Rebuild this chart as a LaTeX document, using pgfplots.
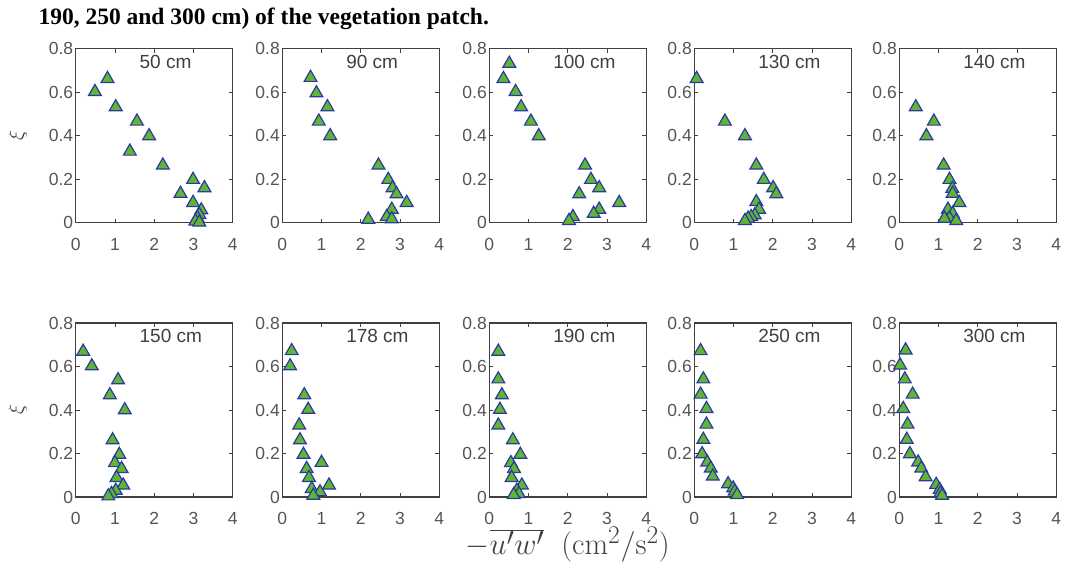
\documentclass[border=0pt]{standalone}
\usepackage[no-math]{fontspec}
\setmainfont{Liberation Sans}
\newfontfamily\titlefont{Liberation Serif}
\usepackage{graphicx}
\usepackage{pgfplots}
\pgfplotsset{compat=1.18}

\definecolor{mkgreen}{RGB}{96,182,50}
\definecolor{mkedge}{RGB}{42,58,160}
\definecolor{axgray}{RGB}{64,64,64}
\definecolor{lblgray}{RGB}{85,85,85}

\pgfplotsset{
  panel/.style={
    scale only axis, width=157pt, height=174pt,
    anchor=south west,
    xmin=0, xmax=4, ymin=0, ymax=0.8,
    xtick={0,1,2,3,4}, ytick={0,0.2,0.4,0.6,0.8},
    tick align=inside, major tick length=4pt,
    axis line style={axgray, line width=1.1pt},
    every tick/.style={axgray, line width=0.8pt},
    tick label style={font=\fontsize{17.5}{19}\selectfont, text=lblgray},
    /pgf/number format/assume math mode=true,
    xticklabel style={yshift=-12pt},
    yticklabel style={xshift=1pt},
    clip=false,
  },
  firstcol/.style={
    ylabel={$\xi$},
    ylabel style={at={(axis description cs:-0.37,0.5)}, anchor=center,
      font=\fontsize{20}{22}\selectfont, text=axgray},
  },
  pts/.style={only marks, mark=triangle*, mark size=7.4pt,
    mark options={draw=mkedge, fill=mkgreen, line width=1.2pt, yshift=-1.8pt}},
}
\newcommand{\ptitle}[1]{\node[anchor=west, font=\fontsize{19}{21}\selectfont,
  text=axgray] at (rel axis cs:0.385,0.924) {#1};}

\begin{document}
\begin{tikzpicture}
\useasboundingbox (0,0) rectangle (1066pt,-569pt);

\node[anchor=base west, font=\titlefont\bfseries\fontsize{23.5}{26}\selectfont]
  at (35pt,-25pt) {190, 250 and 300 cm) of the vegetation patch.};

% top row
\begin{axis}[panel, firstcol, at={(75.7pt,-222.7pt)}]
\addplot[pts] coordinates {(0.81,0.67) (0.49,0.61) (1.02,0.54) (1.56,0.474) (1.87,0.407) (1.38,0.336) (2.22,0.272) (2.99,0.206) (3.28,0.168) (2.67,0.142) (2.99,0.10) (3.2,0.066) (3.15,0.045) (3.1,0.03) (3.05,0.015) (3.15,0.01)};
\ptitle{50 cm}
\end{axis}

\begin{axis}[panel, at={(282.3pt,-222.7pt)}]
\addplot[pts] coordinates {(0.72,0.675) (0.87,0.604) (1.15,0.54) (0.93,0.474) (1.22,0.407) (2.45,0.272) (2.70,0.206) (2.81,0.168) (2.91,0.14) (3.17,0.10) (2.79,0.069) (2.66,0.035) (2.79,0.025) (2.19,0.023)};
\ptitle{90 cm}
\end{axis}

\begin{axis}[panel, at={(489.3pt,-222.7pt)}]
\addplot[pts] coordinates {(0.51,0.74) (0.36,0.67) (0.67,0.61) (0.81,0.54) (1.06,0.474) (1.26,0.407) (2.44,0.272) (2.59,0.206) (2.80,0.168) (2.29,0.14) (3.31,0.10) (2.80,0.069) (2.66,0.05) (2.13,0.035) (2.03,0.017)};
\ptitle{100 cm}
\end{axis}

\begin{axis}[panel, at={(694.3pt,-222.7pt)}]
\addplot[pts] coordinates {(0.06,0.67) (0.78,0.474) (1.29,0.407) (1.58,0.272) (1.77,0.206) (2.01,0.168) (2.09,0.14) (1.58,0.104) (1.65,0.069) (1.54,0.043) (1.45,0.035) (1.37,0.028) (1.29,0.017)};
\ptitle{130 cm}
\end{axis}

\begin{axis}[panel, at={(899.3pt,-222.7pt)}]
\addplot[pts] coordinates {(0.42,0.54) (0.88,0.474) (0.69,0.407) (1.13,0.272) (1.28,0.206) (1.35,0.165) (1.36,0.142) (1.53,0.10) (1.24,0.069) (1.36,0.05) (1.28,0.028) (1.15,0.028) (1.45,0.017)};
\ptitle{140 cm}
\end{axis}

% bottom row
\begin{axis}[panel, firstcol, at={(75.7pt,-497pt)}]
\addplot[pts] coordinates {(0.19,0.677) (0.41,0.61) (1.08,0.546) (0.87,0.477) (1.25,0.408) (0.94,0.27) (1.11,0.203) (1.0,0.165) (1.17,0.138) (1.04,0.097) (1.21,0.062) (1.02,0.038) (0.91,0.023) (0.83,0.012)};
\ptitle{150 cm}
\end{axis}

\begin{axis}[panel, at={(282.3pt,-497pt)}]
\addplot[pts] coordinates {(0.24,0.68) (0.20,0.61) (0.56,0.477) (0.66,0.41) (0.43,0.338) (0.45,0.27) (0.54,0.203) (1.0,0.166) (0.62,0.138) (0.68,0.097) (1.19,0.062) (0.75,0.046) (0.96,0.031) (0.79,0.015)};
\ptitle{178 cm}
\end{axis}

\begin{axis}[panel, at={(489.3pt,-497pt)},
  xlabel={\scalebox{1.23}{$-\overline{u'w'}\ \ (\mathrm{cm}^2/\mathrm{s}^2)$}},
  xlabel style={at={(axis description cs:0.5,-0.275)}, anchor=center,
    font=\fontsize{24.88}{28}\selectfont, text=axgray}]
\addplot[pts] coordinates {(0.23,0.677) (0.23,0.55) (0.32,0.477) (0.27,0.41) (0.23,0.338) (0.60,0.27) (0.79,0.203) (0.55,0.165) (0.63,0.138) (0.57,0.097) (0.83,0.062) (0.70,0.038) (0.75,0.023) (0.62,0.018)};
\ptitle{190 cm}
\end{axis}

\begin{axis}[panel, at={(694.3pt,-497pt)}]
\addplot[pts] coordinates {(0.16,0.68) (0.23,0.55) (0.16,0.48) (0.31,0.414) (0.31,0.342) (0.23,0.272) (0.20,0.206) (0.33,0.168) (0.42,0.14) (0.47,0.103) (0.86,0.068) (0.99,0.049) (1.03,0.034) (1.09,0.018)};
\ptitle{250 cm}
\end{axis}

\begin{axis}[panel, at={(899.3pt,-497pt)}]
\addplot[pts] coordinates {(0.16,0.683) (0.02,0.614) (0.14,0.55) (0.34,0.48) (0.10,0.414) (0.21,0.342) (0.19,0.272) (0.27,0.206) (0.48,0.168) (0.56,0.14) (0.67,0.10) (0.94,0.065) (1.03,0.042) (1.05,0.026) (1.09,0.015)};
\ptitle{300 cm}
\end{axis}
\end{tikzpicture}
\end{document}
